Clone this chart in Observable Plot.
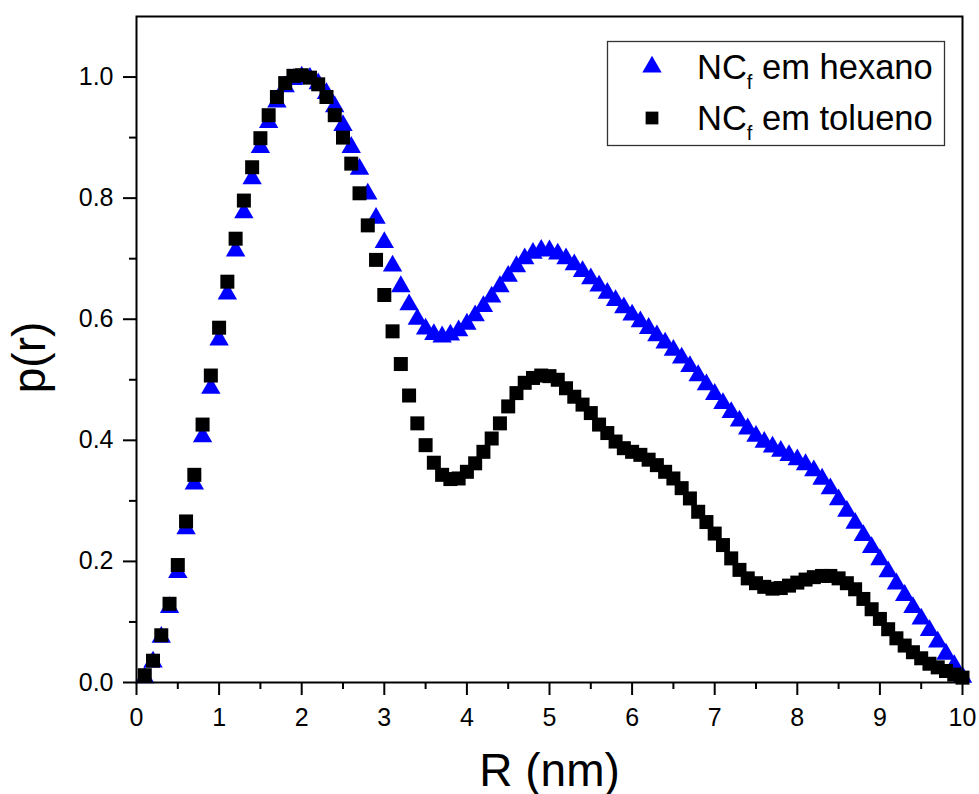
<!DOCTYPE html>
<html>
<head>
<meta charset="utf-8">
<script src="https://cdn.jsdelivr.net/npm/d3@7"></script>
<script src="https://cdn.jsdelivr.net/npm/@observablehq/plot@0.6"></script>
<style>
  html, body { margin: 0; padding: 0; background: #fff; }
  #wrap { position: relative; width: 979px; height: 794px; overflow: hidden; font-family: "Liberation Sans", Arial, sans-serif; }
  #legend { position: absolute; left: 0; top: 0; }
</style>
</head>
<body>
<div id="wrap"></div>
<script>
// ---- data ----
const R = [0.1,0.2,0.3,0.4,0.5,0.6,0.7,0.8,0.9,1.0,
  1.1,1.2,1.3,1.4,1.5,1.6,1.7,1.8,1.9,2.0,
  2.1,2.2,2.3,2.4,2.5,2.6,2.7,2.8,2.9,3.0,
  3.1,3.2,3.3,3.4,3.5,3.6,3.7,3.8,3.9,4.0,
  4.1,4.2,4.3,4.4,4.5,4.6,4.7,4.8,4.9,5.0,
  5.1,5.2,5.3,5.4,5.5,5.6,5.7,5.8,5.9,6.0,
  6.1,6.2,6.3,6.4,6.5,6.6,6.7,6.8,6.9,7.0,
  7.1,7.2,7.3,7.4,7.5,7.6,7.7,7.8,7.9,8.0,
  8.1,8.2,8.3,8.4,8.5,8.6,8.7,8.8,8.9,9.0,
  9.1,9.2,9.3,9.4,9.5,9.6,9.7,9.8,9.9,10.0];

const hexano = [0.008,0.034,0.075,0.124,0.182,0.254,0.328,0.406,0.486,0.566,
  0.642,0.713,0.776,0.832,0.884,0.925,0.959,0.984,0.996,1.000,
  0.998,0.989,0.973,0.951,0.920,0.884,0.848,0.807,0.767,0.727,
  0.688,0.654,0.624,0.600,0.584,0.575,0.571,0.574,0.581,0.592,
  0.606,0.621,0.637,0.654,0.671,0.687,0.700,0.709,0.714,0.713,
  0.708,0.700,0.690,0.679,0.667,0.655,0.643,0.631,0.619,0.607,
  0.596,0.585,0.573,0.561,0.549,0.536,0.522,0.507,0.492,0.476,
  0.461,0.446,0.432,0.419,0.407,0.397,0.389,0.382,0.375,0.368,
  0.360,0.350,0.336,0.320,0.302,0.283,0.263,0.243,0.223,0.203,
  0.183,0.163,0.144,0.124,0.105,0.086,0.067,0.047,0.028,0.009];

const tolueno = [0.012,0.036,0.078,0.130,0.194,0.266,0.343,0.426,0.507,0.586,
  0.662,0.733,0.796,0.851,0.899,0.937,0.967,0.990,1.002,1.003,
  0.999,0.988,0.967,0.937,0.900,0.857,0.808,0.755,0.698,0.640,
  0.580,0.526,0.474,0.428,0.392,0.363,0.343,0.336,0.337,0.348,
  0.362,0.381,0.403,0.428,0.456,0.478,0.495,0.503,0.507,0.506,
  0.500,0.486,0.472,0.459,0.445,0.426,0.412,0.398,0.387,0.381,
  0.376,0.368,0.359,0.348,0.337,0.321,0.304,0.282,0.265,0.246,
  0.227,0.205,0.186,0.172,0.164,0.158,0.155,0.156,0.160,0.165,
  0.170,0.174,0.176,0.176,0.172,0.164,0.154,0.138,0.121,0.105,
  0.088,0.073,0.061,0.050,0.040,0.031,0.025,0.019,0.013,0.008];

const seriesNames = ["NC", "NC"];
const seriesSubs = ["f", "f"];
const seriesRest = [" em hexano", " em tolueno"];
const seriesColors = ["#0000ff", "#000000"];
const seriesSymbols = ["triangle", "square"];

const xMajor = [0,1,2,3,4,5,6,7,8,9,10];
const xMinor = [0.5,1.5,2.5,3.5,4.5,5.5,6.5,7.5,8.5,9.5];
const yMajor = [0.0,0.2,0.4,0.6,0.8,1.0];
const yMinor = [0.1,0.3,0.5,0.7,0.9];
const xLabel = "R (nm)";
const yLabel = "p(r)";

// ---- table ----
const hexRows = R.map((r, i) => ({r, p: hexano[i]}));
const tolRows = R.map((r, i) => ({r, p: tolueno[i]}));

const FONT = "'Liberation Sans', Arial, sans-serif";

const chart = Plot.plot({
  width: 979,
  height: 794,
  marginLeft: 136,
  marginRight: 17,
  marginTop: 16,
  marginBottom: 112,
  style: {fontFamily: FONT, background: "white", color: "black", overflow: "visible"},
  x: {domain: [0, 10]},
  y: {domain: [0, 1.1]},
  marks: [
    Plot.dot(hexRows, {x: "r", y: "p", symbol: seriesSymbols[0], r: 7.2, fill: seriesColors[0], stroke: "none"}),
    Plot.dot(tolRows, {x: "r", y: "p", symbol: seriesSymbols[1], r: 7.9, fill: seriesColors[1], stroke: "none"}),
    Plot.frame({stroke: "black", strokeWidth: 2}),
    Plot.axisX(xMajor, {tickSize: 13, tickPadding: 13, fontSize: 25, strokeWidth: 2, label: null, tickFormat: d => String(d)}),
    Plot.axisX(xMinor, {tickSize: 7, strokeWidth: 2, label: null, tickFormat: () => ""}),
    Plot.axisY(yMajor, {tickSize: 13, tickPadding: 10, fontSize: 25, strokeWidth: 2, label: null, tickFormat: d3.format(".1f")}),
    Plot.axisY(yMinor, {tickSize: 7, strokeWidth: 2, label: null, tickFormat: () => ""}),
    Plot.text([xLabel], {frameAnchor: "bottom", dy: 103, fontSize: 46, lineAnchor: "bottom", fill: "black"}),
    Plot.text([yLabel], {frameAnchor: "left", dx: -106, dy: 8, rotate: -90, fontSize: 46, textAnchor: "middle", lineAnchor: "middle", fill: "black"})
  ]
});

const wrap = document.getElementById("wrap");
wrap.appendChild(chart);

// ---- legend (inside plot area, top right) ----
const lg = d3.create("svg").attr("id", "legend")
  .attr("width", 979).attr("height", 794)
  .style("position", "absolute").style("left", "0px").style("top", "0px")
  .style("pointer-events", "none");
lg.append("rect").attr("x", 607.5).attr("y", 41.5).attr("width", 337).attr("height", 104)
  .attr("fill", "white").attr("stroke", "#333").attr("stroke-width", 1.3);
const rowY = [67, 118];
const symGen = {
  triangle: d3.symbol(d3.symbolTriangle, Math.PI * 7.2 * 7.2),
  square: d3.symbol(d3.symbolSquare, Math.PI * 7.2 * 7.2)
};
seriesNames.forEach((name, i) => {
  lg.append("path").attr("d", symGen[seriesSymbols[i]]())
    .attr("transform", `translate(652,${rowY[i]})`).attr("fill", seriesColors[i]);
  const t = lg.append("text").attr("x", 697).attr("y", rowY[i] + 12)
    .attr("font-family", FONT).attr("font-size", 34.5).attr("fill", "black");
  t.append("tspan").text(name);
  t.append("tspan").attr("dy", 10).attr("font-size", 20).text(seriesSubs[i]);
  t.append("tspan").attr("dy", -10).text(seriesRest[i]);
});
wrap.appendChild(lg.node());
</script>
</body>
</html>
